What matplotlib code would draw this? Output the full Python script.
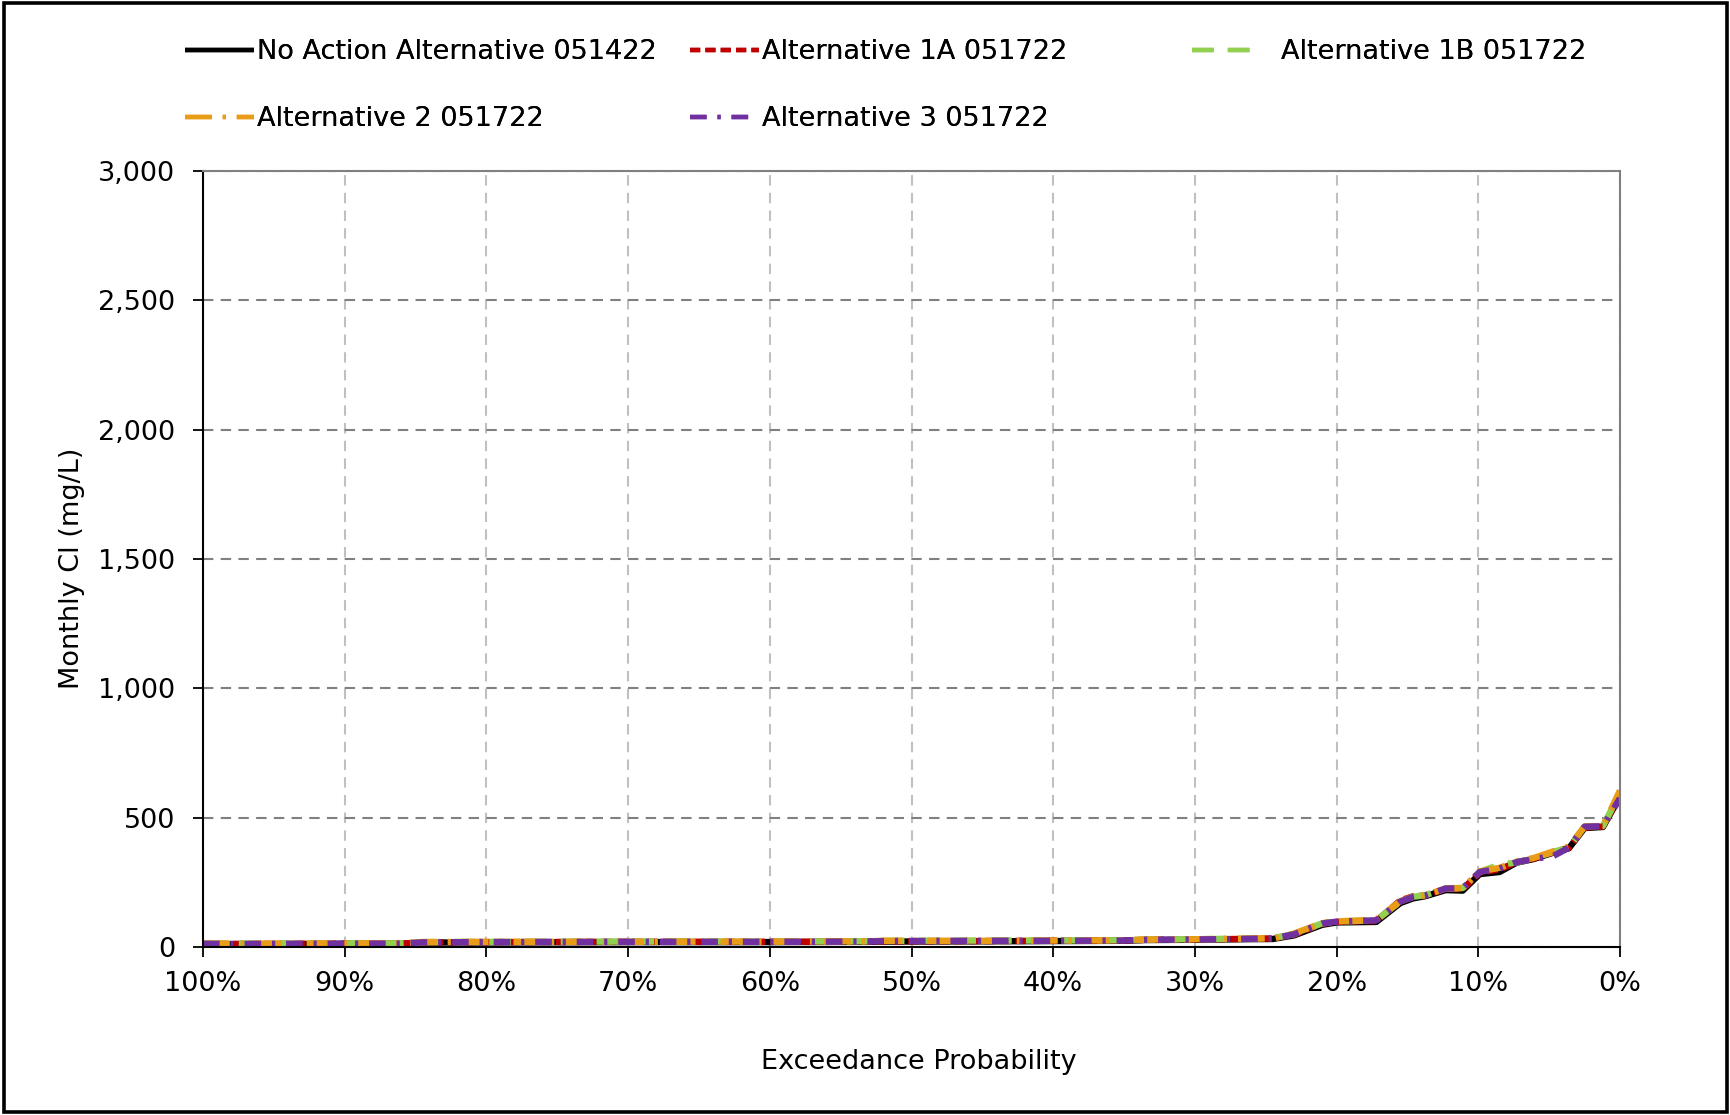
import matplotlib
matplotlib.use("Agg")
import matplotlib.pyplot as plt
from matplotlib.patches import Rectangle
from matplotlib.lines import Line2D
from matplotlib.ticker import FuncFormatter

# ---------------- data ----------------
exceedance = [100, 95, 90, 86, 84.5, 80, 70, 60, 53, 52, 45, 40, 35, 33.5, 30, 27, 24.5,
              23, 21, 20, 17.2, 15.5, 14.6, 13.7, 12.3, 11.1, 9.9, 8.5, 7.3, 6.1, 4.7,
              3.6, 2.5, 1.2, 0]

no_action = [11, 11, 12, 12, 17, 18, 19, 19, 20, 21, 22, 23, 24, 27, 28, 30, 31,
             45, 86, 95, 97, 170, 188, 197, 220, 218, 282, 290, 326, 340, 365,
             382, 460, 464, 582]
alt_1a = [12, 12, 13, 13, 18, 19, 20, 20, 21, 22, 23, 24, 25, 28, 29, 31, 33,
          48, 90, 97, 101, 180, 196, 199, 225, 224, 288, 300, 328, 341, 366,
          383, 462, 466, 585]
alt_1b = [13, 13, 14, 14, 19, 20, 21, 21, 22, 24, 25, 25, 26, 29, 30, 32, 34,
          50, 92, 98, 104, 176, 194, 201, 227, 228, 291, 318, 327, 342, 368,
          385, 466, 468, 595]
alt_2 = [13, 13, 14, 14, 19, 20, 20, 21, 22, 24, 24, 25, 26, 29, 30, 32, 34,
         52, 93, 99, 105, 177, 194, 201, 226, 228, 292, 306, 330, 344, 370,
         388, 466, 468, 605]
alt_3 = [12, 12, 13, 13, 18, 19, 20, 20, 21, 23, 24, 24, 25, 28, 29, 31, 33,
         49, 91, 98, 103, 176, 193, 200, 226, 227, 290, 303, 328, 340, 352,
         384, 465, 467, 575]

series_labels = ["No Action Alternative 051422", "Alternative 1A 051722",
                 "Alternative 1B 051722", "Alternative 2 051722",
                 "Alternative 3 051722"]
x_ticks = [100, 90, 80, 70, 60, 50, 40, 30, 20, 10, 0]
y_ticks = [0, 500, 1000, 1500, 2000, 2500, 3000]

# ---------------- styling ----------------
colors = ["#000000", "#c00000", "#92d050", "#e99c16", "#7030a0"]
dashes = [None, (1.6, 0.8), (3.4, 2.2), (4.2, 1.7, 0.5, 1.7), (2.6, 1.7, 0.5, 1.7)]
LW = 4.6
FS = 19.5

plt.rcParams['font.family'] = ['DejaVu Sans']

W, H = 1730, 1115
fig = plt.figure(figsize=(W / 100, H / 100), dpi=100)
fig.patch.set_facecolor("white")

left, right, top, bottom = 203, 1620, 171, 947
ax = fig.add_axes([left / W, 1 - bottom / H, (right - left) / W, (bottom - top) / H])

all_series = [no_action, alt_1a, alt_1b, alt_2, alt_3]
for vals, lab, c, d in zip(all_series, series_labels, colors, dashes):
    ln, = ax.plot(exceedance, vals, color=c, lw=LW, label=lab,
                  solid_capstyle='butt', dash_capstyle='butt')
    if d is not None:
        ln.set_dashes(d)

ax.set_xlim(100, 0)
ax.set_ylim(0, 3000)
ax.set_xticks(x_ticks)
ax.set_yticks(y_ticks)
ax.xaxis.set_major_formatter(FuncFormatter(lambda v, p: f"{int(round(v))}%"))
ax.yaxis.set_major_formatter(FuncFormatter(lambda v, p: f"{int(v):,}"))

ax.tick_params(axis='both', labelsize=FS, direction='out', length=7, width=1.3,
               colors='#000000')
ax.tick_params(axis='y', pad=13)
ax.tick_params(axis='x', pad=10)

# grid
ax.set_axisbelow(True)
ax.yaxis.grid(True, color='#808080', lw=1.5, linestyle=(0, (5, 3.5)))
ax.xaxis.grid(True, color='#c0c0c0', lw=1.5, linestyle=(0, (5, 3.5)))

for s in ['left', 'bottom']:
    ax.spines[s].set_color('#000000')
    ax.spines[s].set_linewidth(1.5)
for s in ['top', 'right']:
    ax.spines[s].set_color('#808080')
    ax.spines[s].set_linewidth(1.5)

ax.set_xlabel("Exceedance Probability", fontsize=FS)
ax.xaxis.set_label_coords((919 - left) / (right - left), (bottom - 1062) / (bottom - top))
ax.xaxis.label.set_verticalalignment('center')
ax.set_ylabel("Monthly Cl (mg/L)", fontsize=FS)
ax.yaxis.set_label_coords((72 - left) / (right - left), (bottom - 568) / (bottom - top))
ax.yaxis.label.set_verticalalignment('center')
ax.yaxis.label.set_horizontalalignment('center')

# legends (three columns placed individually)
def make_handle(i):
    h = Line2D([], [], color=colors[i], lw=3.2, solid_capstyle='butt',
               dash_capstyle='butt')
    if dashes[i] is not None:
        d = dashes[i]
        h.set_dashes(tuple(v * LW / 3.2 for v in d))
    return h

cols = [([0, 3], 185), ([1, 4], 690), ([2], 1192)]
for idxs, xpx in cols:
    leg = fig.legend([make_handle(i) for i in idxs], [series_labels[i] for i in idxs],
                     loc='upper left', bbox_to_anchor=(xpx / W, 1 - 39 / H),
                     frameon=False, fontsize=FS, handlelength=2.55,
                     handletextpad=0.12 if idxs != [2] else 0.75,
                     labelspacing=1.53, borderpad=0, borderaxespad=0)
    fig.add_artist(leg)

# outer border
fig.add_artist(Rectangle((4 / W, 3 / H), (1727 - 4) / W, (1112 - 3) / H,
                         transform=fig.transFigure, fill=False, edgecolor='black',
                         lw=2.6))

fig.savefig("out.png", dpi=100)
